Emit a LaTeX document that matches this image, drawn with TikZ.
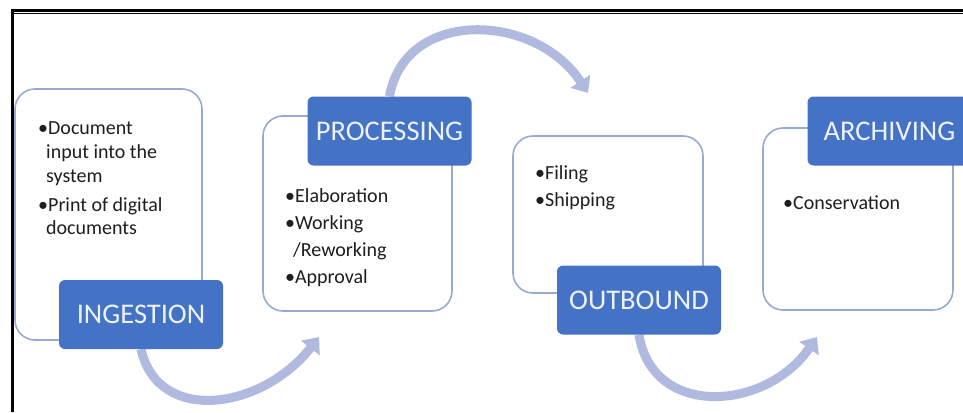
\documentclass[tikz,border=0pt]{standalone}
\usepackage{fontspec}
\setmainfont{Carlito}
\usetikzlibrary{arrows.meta,backgrounds}
\definecolor{lblblue}{RGB}{68,114,196}
\definecolor{panelline}{RGB}{150,170,212}
\definecolor{arrowcol}{RGB}{176,186,222}
\definecolor{lbltext}{RGB}{236,241,250}
\definecolor{bodytext}{RGB}{30,30,30}
\begin{document}
\begin{tikzpicture}[x=1pt,y=-1pt,
  panel/.style={draw=panelline, line width=1.6pt, fill=white, rounded corners=20pt, inner sep=0pt},
  stagelabel/.style={fill=lblblue, rounded corners=6pt, text=lbltext, font=\fontsize{28.5}{30}\selectfont, minimum width=164pt, minimum height=69pt, inner sep=0pt},
  body/.style={anchor=base west, inner sep=0pt, text=bodytext, font=\fontsize{20}{24}\selectfont},
  flow/.style={draw=arrowcol, line width=9pt, -{Triangle[width=23pt,length=14pt]}},
  frame/.style={draw=black}
]
\useasboundingbox (0,0) rectangle (963,412);
\clip (0,0) rectangle (963,412);

% frame lines
\draw[frame, line width=2.2pt] (11,10.6) -- (963,10.6);
\draw[frame, line width=1.3pt] (11,13.6) -- (963,13.6);
\draw[frame, line width=2.2pt] (12.5,10) -- (12.5,412);

% panels
\node[panel, minimum width=187pt, minimum height=251pt] (p1) at (108.5,214.5) {};
\node[panel, minimum width=189pt, minimum height=195pt] (p2) at (357.5,213.5) {};
\node[panel, minimum width=190pt, minimum height=157pt] (p3) at (608,214.5) {};
\node[panel, minimum width=190pt, minimum height=182pt] (p4) at (858,219) {};

% label boxes
\node[stagelabel] (l1) at (141,314.5) {INGESTION};
\node[stagelabel] (l2) at (389.5,131) {PROCESSING};
\node[stagelabel] (l3) at (639,300) {OUTBOUND};
\node[stagelabel] (l4) at (889.5,131) {ARCHIVING};

% arrow end points
\coordinate (e1) at (319,337);
\coordinate (e2) at (588,93);
\coordinate (e3) at (817,337);

% arrows, behind the boxes
\begin{pgfonlayer}{background}
\fill[white] (0,0) rectangle (963,412);
\draw[flow] (l1.south) .. controls (158,425) and (262,410) .. (e1);
\draw[flow] (l2.north) .. controls (405,8) and (535,12) .. (e2);
\draw[flow] (l3.south) .. controls (652,418) and (765,412) .. (e3);
\end{pgfonlayer}

% body texts
\node[body] (i1) at (38,134.5) {•Document};
\node[body] (i2) at (46,158.5) {input into the};
\node[body] (i3) at (46,182.5) {system};
\node[body] (i4) at (38,211) {•Print of digital};
\node[body] (i5) at (46,234.5) {documents};

\node[body] (r1) at (285,202.5) {•Elaboration};
\node[body] (r2) at (285,229.5) {•Working};
\node[body] (r3) at (293,256.5) {/Reworking};
\node[body] (r4) at (285,283.5) {•Approval};

\node[body] (o1) at (535,179.5) {•Filing};
\node[body] (o2) at (535,206.5) {•Shipping};

\node[body] (a1) at (783,209.5) {•Conservation};
\end{tikzpicture}
\end{document}
